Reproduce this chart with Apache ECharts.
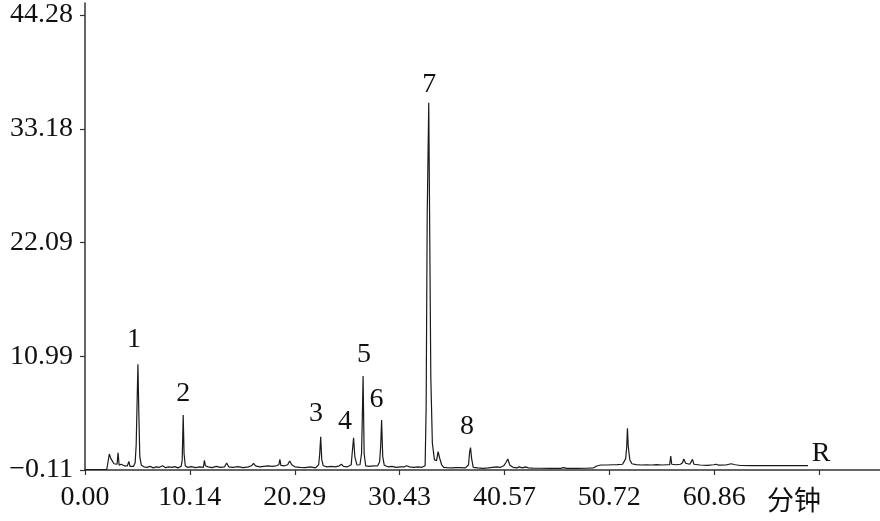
<!DOCTYPE html>
<html>
<head>
<meta charset="utf-8">
<script src="https://cdn.jsdelivr.net/npm/echarts@6/dist/echarts.min.js"></script>
<style>html,body{margin:0;padding:0;background:#fff}#c{width:880px;height:521px}</style>
</head>
<body>
<div id="c"></div>
<script>
// Retention time (min) of the trace
var traceTime = [0,2.1,2.2,2.35,2.5,2.65,2.8,2.95,3.1,3.2,3.3,3.5,3.8,4.1,4.25,4.35,4.7,4.85,4.95,5.05,5.12,5.2,5.3,5.45,
5.7,6.0,6.3,6.6,6.9,7.2,7.5,7.8,8.1,8.4,8.7,9.0,9.3,9.4,9.5,9.58,9.7,
9.9,10.3,10.7,11.1,11.45,11.55,11.65,11.9,12.3,12.7,13.1,13.5,13.7,13.9,14.3,14.8,15.3,15.8,16.1,16.3,16.5,16.9,17.3,17.7,18.1,18.5,18.75,18.85,18.95,19.3,19.6,19.8,20.0,20.3,20.8,21.3,21.8,22.3,22.6,22.7,22.8,22.9,23.05,23.4,23.8,24.2,24.6,24.8,25.0,25.4,25.75,25.85,25.98,26.1,26.3,26.6,26.75,26.83,26.9,27.0,27.15,27.5,27.9,28.3,28.5,28.6,28.69,28.8,28.95,29.3,29.7,30.1,30.5,30.9,31.1,31.26,31.4,31.8,32.2,32.6,32.9,33.0,33.1,33.25,33.35,33.45,33.6,33.8,34.0,34.16,34.3,34.5,34.7,35.0,35.5,35.9,36.05,36.3,36.8,37.1,37.2,37.29,37.4,37.55,38.0,38.5,39.0,39.4,39.8,40.2,40.5,40.7,40.9,41.1,41.4,41.8,42.0,42.3,42.6,42.9,43.3,44.0,45.0,46.0,46.3,46.6,47.5,48.5,49.2,49.5,49.9,50.5,51.0,51.5,52.0,52.3,52.4,52.47,52.55,52.7,52.9,53.3,53.8,54.3,54.8,55.3,55.8,56.3,56.55,56.66,56.75,57.2,57.6,57.8,57.92,58.1,58.5,58.76,58.9,59.5,60.2,60.8,61.08,61.3,62.0,62.5,62.69,62.9,63.4,64.5,66.0,68.0,69.94];
// Detector response of the trace
var traceValue = [-0.06,-0.06,0.5,1.45,1.0,0.75,0.5,0.6,0.45,1.58,0.35,0.45,0.3,0.3,0.72,0.25,0.25,0.6,2.3,2.3,10.2,5.8,1.2,0.35,
0.2,0.15,0.25,0.1,0.2,0.15,0.3,0.12,0.2,0.15,0.22,0.1,0.25,0.8,5.26,1.5,0.3,
0.15,0.22,0.12,0.2,0.15,0.84,0.3,0.2,0.12,0.25,0.15,0.2,0.57,0.2,0.15,0.22,0.12,0.2,0.3,0.54,0.3,0.2,0.25,0.3,0.25,0.3,0.4,0.93,0.35,0.3,0.4,0.77,0.4,0.2,0.15,0.12,0.2,0.1,0.4,1.4,3.14,0.9,0.3,0.2,0.25,0.2,0.3,0.45,0.25,0.2,0.4,1.6,3.04,1.2,0.38,0.4,1.5,5.26,9.06,1.5,0.3,0.25,0.3,0.28,0.7,2.2,4.77,1.2,0.35,0.2,0.25,0.15,0.2,0.2,0.3,0.45,0.2,0.15,0.2,0.15,0.3,6.06,24.6,35.71,35.71,9.0,2.5,0.9,0.8,1.68,1.06,0.4,0.15,0.12,0.1,0.12,0.28,0.12,0.1,0.4,1.6,2.07,1.0,0.15,0.1,0.05,0.1,0.15,0.2,0.15,0.3,0.6,0.96,0.35,0.15,0.1,0.2,0.1,0.2,0.1,0.08,0.06,0.05,0.05,0.12,0.05,0.05,0.06,0.1,0.28,0.38,0.38,0.4,0.42,0.45,1.0,2.16,3.96,2.16,0.9,0.5,0.42,0.38,0.4,0.38,0.42,0.38,0.4,0.4,1.26,0.45,0.4,0.45,0.6,0.96,0.55,0.45,0.93,0.45,0.38,0.35,0.4,0.45,0.36,0.38,0.5,0.54,0.4,0.33,0.32,0.31,0.31,0.31];
// Peak labels and their anchor positions (time, response)
var peakNames = ['1','2','3','4','5','6','7','8','R'];
var peakLabelTime = [4.74,9.50,22.34,25.14,26.98,28.20,33.29,36.96,71.2];
var peakLabelValue = [12.58,7.38,5.36,4.60,11.11,6.79,37.47,4.12,1.45];
// Axis ticks
var xTicks = [0,10.14,20.29,30.43,40.57,50.72,60.86,71.0];
var xTickLabels = ['0.00','10.14','20.29','30.43','40.57','50.72','60.86',''];
var yTicks = [-0.11,10.99,22.09,33.18,44.28];
var yTickLabels = ['\u22120.11','10.99','22.09','33.18','44.28'];
var xUnit = '分钟';

var trace = traceTime.map(function(t,i){return [t, traceValue[i]];});
var labels = peakNames.map(function(n,i){return {name:n, value:[peakLabelTime[i], peakLabelValue[i]]};});

var serif = 'Liberation Serif';
var ink = '#111';
var chart = echarts.init(document.getElementById('c'), null, {renderer:'canvas'});
chart.setOption({
  animation:false,
  backgroundColor:'#fff',
  grid:{left:85,right:0,top:3,bottom:51,containLabel:false},
  graphic:[{type:'text', left:767, top:486, silent:true,
    style:{text:xUnit, font:'27px "Noto Sans CJK SC"', fill:ink}}],
  xAxis:{
    type:'value', min:0, max:76.9,
    axisLine:{show:true, onZero:false, lineStyle:{color:'#333', width:1.5}},
    axisTick:{show:true, length:5, inside:false, customValues:xTicks, lineStyle:{color:'#333', width:1.2}},
    axisLabel:{show:true, customValues:xTicks, margin:14, fontFamily:serif, fontSize:28, color:ink,
      formatter:function(v){var i=xTicks.indexOf(v);return i>=0?xTickLabels[i]:'';}},
    splitLine:{show:false}
  },
  yAxis:{
    type:'value', min:-0.11, max:45.45,
    axisLine:{show:true, onZero:false, lineStyle:{color:'#333', width:1.5}},
    axisTick:{show:true, length:5, inside:false, customValues:yTicks, lineStyle:{color:'#333', width:1.2}},
    axisLabel:{show:true, customValues:yTicks, margin:12, fontFamily:serif, fontSize:28, color:ink,
      formatter:function(v){var i=yTicks.indexOf(v);return i>=0?yTickLabels[i]:'';}},
    splitLine:{show:false}
  },
  series:[
    {type:'line', data:trace, showSymbol:false, symbol:'none', lineStyle:{color:'#1a1a1a', width:1.2}, z:3, silent:true},
    {type:'scatter', data:labels, symbolSize:0, silent:true, z:4, itemStyle:{opacity:1},
      label:{show:true, position:'inside', formatter:'{b}', fontFamily:serif, fontSize:28, color:ink, textBorderWidth:0, opacity:1}}
  ]
});
</script>
</body>
</html>
